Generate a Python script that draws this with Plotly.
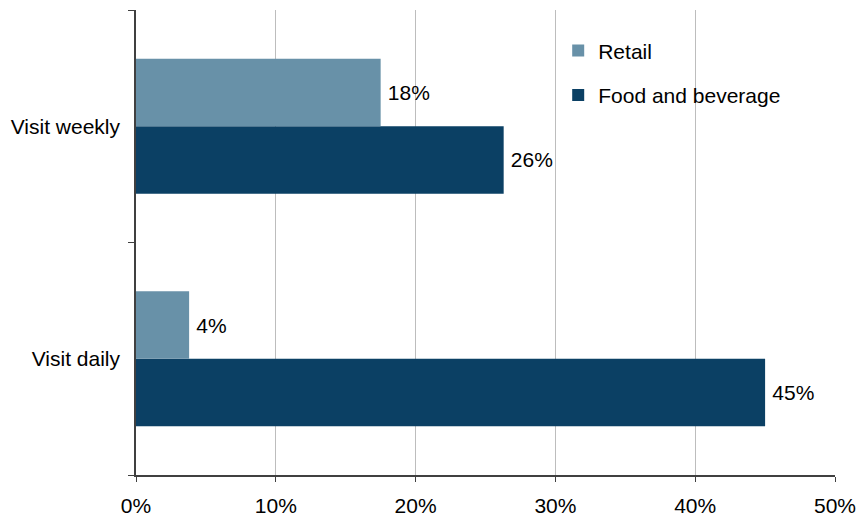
import plotly.graph_objects as go

categories = ['Visit daily', 'Visit weekly']
retail = [3.8, 17.5]
food_bev = [45.0, 26.3]
retail_labels = ['\u20094%', '\u200918%']
food_bev_labels = ['\u200945%', '\u200926%']
x_ticks = [0, 10, 20, 30, 40, 50]
x_ticklabels = ['0%', '10%', '20%', '30%', '40%', '50%']

FONT = 'Liberation Sans, Arial, sans-serif'
FS = 21

fig = go.Figure()

# first trace sits lower in each group for horizontal bars
fig.add_trace(go.Bar(
  y=categories, x=food_bev, orientation='h', name='Food and beverage',
  marker=dict(color='#0b4064', line=dict(width=0)),
  text=food_bev_labels, textposition='outside', cliponaxis=False,
  textfont=dict(size=FS, color='black'), legendgroup='fb', legendrank=2,
))
fig.add_trace(go.Bar(
  y=categories, x=retail, orientation='h', name='Retail',
  marker=dict(color='#6891a8', line=dict(width=0)),
  text=retail_labels, textposition='outside', cliponaxis=False,
  textfont=dict(size=FS, color='black'), legendgroup='r', legendrank=1,
))

fig.update_layout(
  width=858, height=518,
  margin=dict(l=136, r=23, t=10, b=43),
  plot_bgcolor='white', paper_bgcolor='white',
  font=dict(family=FONT, size=FS, color='black'),
  barmode='group', bargap=0.42, bargroupgap=0,
  showlegend=True,
  legend=dict(x=0.604, y=0.956, xanchor='left', yanchor='top',
              bgcolor='rgba(0,0,0,0)', tracegroupgap=14,
              font=dict(size=FS), itemwidth=30),
  xaxis=dict(range=[0, 50], tickvals=x_ticks, ticktext=x_ticklabels,
             showgrid=True, gridcolor='#bdbdbd', gridwidth=1,
             showline=True, linecolor='#404040', linewidth=1.5,
             ticks='outside', ticklen=5, tickcolor='#404040',
             ticklabelstandoff=6, automargin=False,
             zeroline=False, fixedrange=True),
  yaxis=dict(categoryorder='array', categoryarray=categories,
             range=[-0.5, 1.5], tickson='boundaries',
             showline=True, linecolor='#404040', linewidth=1.5,
             ticks='outside', ticklen=6, tickcolor='#404040',
             ticklabelstandoff=10, automargin=False,
             showgrid=False),
)

# the page body has a default 8px margin; drop it so the figure fills the window
fig.write_html("out.html", config={'displayModeBar': False},
               post_script="document.body.style.margin='0';")
